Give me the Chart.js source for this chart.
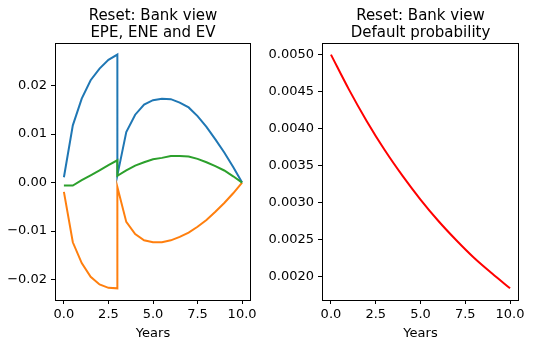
<!DOCTYPE html>
<html>
<head>
<meta charset="utf-8">
<script src="https://cdn.jsdelivr.net/npm/chart.js@4/dist/chart.umd.min.js"></script>
<style>
  html, body { margin: 0; padding: 0; background: #fff; }
  #wrap { position: relative; width: 533px; height: 348px; }
  canvas { position: absolute; top: 0; }
  #left { left: 0; }
  #right { left: 266px; }
</style>
</head>
<body>
<div id="wrap">
  <canvas id="left" width="266" height="348"></canvas>
  <canvas id="right" width="267" height="348"></canvas>
</div>
<script>
// exposure profile, reset at year 3 (duplicated point gives the jump)
const yearsExp = [0, 0.5, 1, 1.5, 2, 2.5, 3, 3, 3.5, 4, 4.5, 5, 5.5, 6, 6.5, 7, 7.5, 8, 8.5, 9, 9.5, 10];
const epe = [0.0011, 0.0118, 0.0173, 0.0211, 0.0235, 0.0253, 0.0264, 0.0015, 0.0104, 0.0140, 0.0161, 0.0170, 0.0173, 0.0172, 0.0165, 0.0155, 0.0137, 0.0115, 0.0089, 0.0062, 0.0032, 0];
const ene = [-0.0019, -0.0123, -0.0166, -0.0194, -0.0210, -0.0217, -0.0218, -0.0009, -0.0081, -0.0106, -0.0119, -0.0123, -0.0123, -0.0119, -0.0112, -0.0103, -0.0091, -0.0077, -0.0060, -0.0042, -0.0022, 0];
const ev = [-0.0006, -0.0006, 0.0005, 0.0015, 0.0025, 0.0036, 0.0046, 0.0014, 0.0025, 0.0035, 0.0042, 0.0048, 0.0051, 0.0055, 0.0055, 0.0054, 0.0049, 0.0042, 0.0034, 0.0025, 0.0013, 0];

// default probability
const yearsPd = [0, 1, 2, 3, 4, 5, 6, 7, 8, 9, 10];
const pd = [0.00500, 0.00453, 0.00410, 0.00371, 0.00336, 0.00304, 0.00275, 0.00249, 0.00225, 0.00204, 0.00184];

const xTicks = [0, 2.5, 5, 7.5, 10];
const yTicksExp = [-0.02, -0.01, 0, 0.01, 0.02];
const yTicksPd = [0.0020, 0.0025, 0.0030, 0.0035, 0.0040, 0.0045, 0.0050];

const FONT = 'DejaVu Sans';
Chart.defaults.font.family = FONT;
Chart.defaults.color = '#000';

const toPoints = (xs, ys) => xs.map((x, i) => ({ x: x, y: ys[i] }));
const fmt = (v, d) => v.toFixed(d).replace('-', '\u2212');

// box around the plot area, like matplotlib spines
const frame = {
  id: 'frame',
  afterDraw(chart) {
    const a = chart.chartArea, ctx = chart.ctx;
    ctx.save();
    ctx.strokeStyle = '#000';
    ctx.lineWidth = 1;
    ctx.strokeRect(Math.round(a.left) + 0.5, Math.round(a.top) + 0.5,
      Math.round(a.right - a.left) - 1, Math.round(a.bottom - a.top));
    ctx.restore();
  }
};

function makeChart(id, titleLines, datasets, yTicks, yMin, yMax, yDec, yWidth, rightPad) {
  const tickGrid = { display: true, drawOnChartArea: false, drawTicks: true, tickLength: 4, tickColor: '#000', tickWidth: 1 };
  return new Chart(document.getElementById(id), {
    type: 'line',
    data: { datasets: datasets },
    options: {
      responsive: false,
      animation: false,
      devicePixelRatio: 1,
      layout: { padding: { left: 0, right: rightPad, top: 0, bottom: 0 } },
      plugins: {
        legend: { display: false },
        tooltip: { enabled: false },
        title: {
          display: true,
          fullSize: false,
          text: titleLines,
          color: '#000',
          font: { size: 15, weight: 'normal', lineHeight: 1.13 },
          padding: { top: 8, bottom: 1 }
        }
      },
      elements: { point: { radius: 0 } },
      scales: {
        x: {
          type: 'linear',
          min: -0.5,
          max: 10.5,
          grid: tickGrid,
          border: { display: false },
          afterBuildTicks: s => { s.ticks = xTicks.map(v => ({ value: v })); },
          afterFit: s => { s.height = 48; },
          ticks: { font: { size: 13 }, padding: 3, maxRotation: 0, callback: v => fmt(v, 1) },
          title: { display: true, text: 'Years', font: { size: 13 }, padding: { top: 0, bottom: 7 } }
        },
        y: {
          min: yMin,
          max: yMax,
          grid: tickGrid,
          border: { display: false },
          afterBuildTicks: s => { s.ticks = yTicks.map(v => ({ value: v })); },
          afterFit: s => { s.width = yWidth; },
          ticks: { font: { size: 13 }, padding: 4, callback: v => fmt(v, yDec) }
        }
      }
    },
    plugins: [frame]
  });
}

makeChart('left', ['Reset: Bank view', 'EPE, ENE and EV'], [
  { label: 'EPE', data: toPoints(yearsExp, epe), borderColor: '#1f77b4', borderWidth: 2, fill: false, tension: 0, order: 3 },
  { label: 'ENE', data: toPoints(yearsExp, ene), borderColor: '#ff7f0e', borderWidth: 2, fill: false, tension: 0, order: 2 },
  { label: 'EV', data: toPoints(yearsExp, ev), borderColor: '#2ca02c', borderWidth: 2, fill: false, tension: 0, order: 1 }
], yTicksExp, -0.0242, 0.0288, 2, 55, 15);

makeChart('right', ['Reset: Bank view', 'Default probability'], [
  { label: 'PD', data: toPoints(yearsPd, pd), borderColor: '#ff0000', borderWidth: 2, fill: false, cubicInterpolationMode: 'monotone' }
], yTicksPd, 0.001682, 0.005158, 4, 56, 14);
</script>
</body>
</html>
